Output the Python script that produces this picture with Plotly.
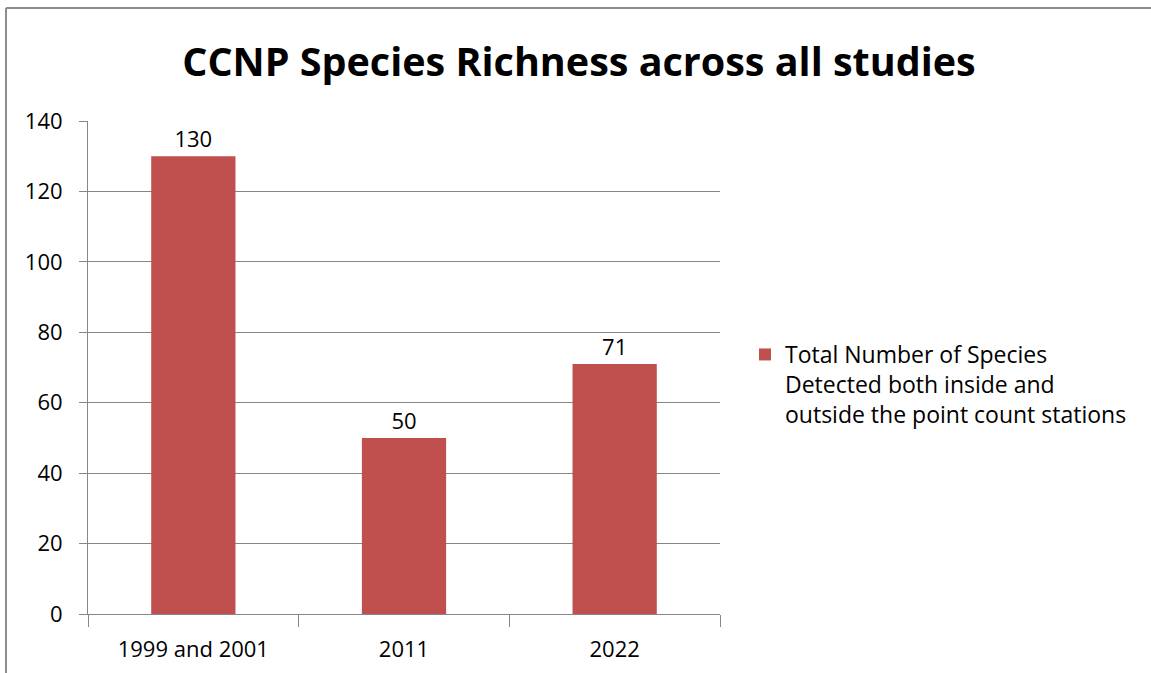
import plotly.graph_objects as go

categories = ["1999 and 2001", "2011", "2022"]
values = [130, 50, 71]
series_name = "Total Number of Species<br>Detected both inside and<br>outside the point count stations"
title_text = "CCNP Species Richness across all studies"

W, H = 1151, 673
L, R, T, B = 88, 720, 121, 614
pw, ph = R - L, B - T

def px_x(x):
    return (x - L) / pw

def px_y(y):
    return (B - y) / ph

font_family = "'Open Sans', Lato, sans-serif"
axis_gray = "#868686"
fs = 22

fig = go.Figure()
fig.add_trace(go.Bar(
    x=categories, y=values, name=series_name,
    marker=dict(color="#C0504D", line=dict(width=0)),
    text=[str(v) for v in values], textposition="outside",
    textfont=dict(size=fs, color="#000000", family=font_family),
    cliponaxis=False, showlegend=True,
))

fig.update_layout(
    width=W, height=H,
    margin=dict(l=L, r=W - R, t=T, b=H - B, autoexpand=False),
    paper_bgcolor="white", plot_bgcolor="white",
    font=dict(family=font_family, size=fs, color="#000000"),
    bargap=0.6,
    showlegend=True,
    title=dict(text="<b>" + title_text + "</b>", xref="container", yref="container",
               x=579 / W, y=1 - 62 / H, xanchor="center", yanchor="middle",
               font=dict(size=39.5, family=font_family, color="#000000")),
    legend=dict(x=px_x(745), y=px_y(333), xanchor="left", yanchor="top",
                valign="top", font=dict(size=23, family=font_family),
                bgcolor="rgba(0,0,0,0)", itemsizing="constant", tracegroupgap=0),
    xaxis=dict(type="category", showline=True, linecolor=axis_gray, linewidth=1,
               ticks="outside", tickson="boundaries", ticklen=12, tickcolor=axis_gray,
               showgrid=False, tickfont=dict(size=fs), ticklabelstandoff=16,
               fixedrange=True),
    yaxis=dict(range=[0, 140], dtick=20, showline=True, linecolor=axis_gray, linewidth=1,
               ticks="outside", ticklen=8, tickcolor=axis_gray,
               showgrid=True, gridcolor=axis_gray, gridwidth=1, zeroline=False,
               tickfont=dict(size=fs), ticklabelstandoff=12, fixedrange=True),
)

# outer chart border (top and left visible; chart is cropped on right/bottom)
fig.add_shape(type="line", xref="paper", yref="paper",
              x0=px_x(6), x1=px_x(1160), y0=px_y(8), y1=px_y(8),
              line=dict(color="#8c8c8c", width=2))
fig.add_shape(type="line", xref="paper", yref="paper",
              x0=px_x(6), x1=px_x(6), y0=px_y(8), y1=px_y(690),
              line=dict(color="#8c8c8c", width=2))

fig.write_html("out.html")
